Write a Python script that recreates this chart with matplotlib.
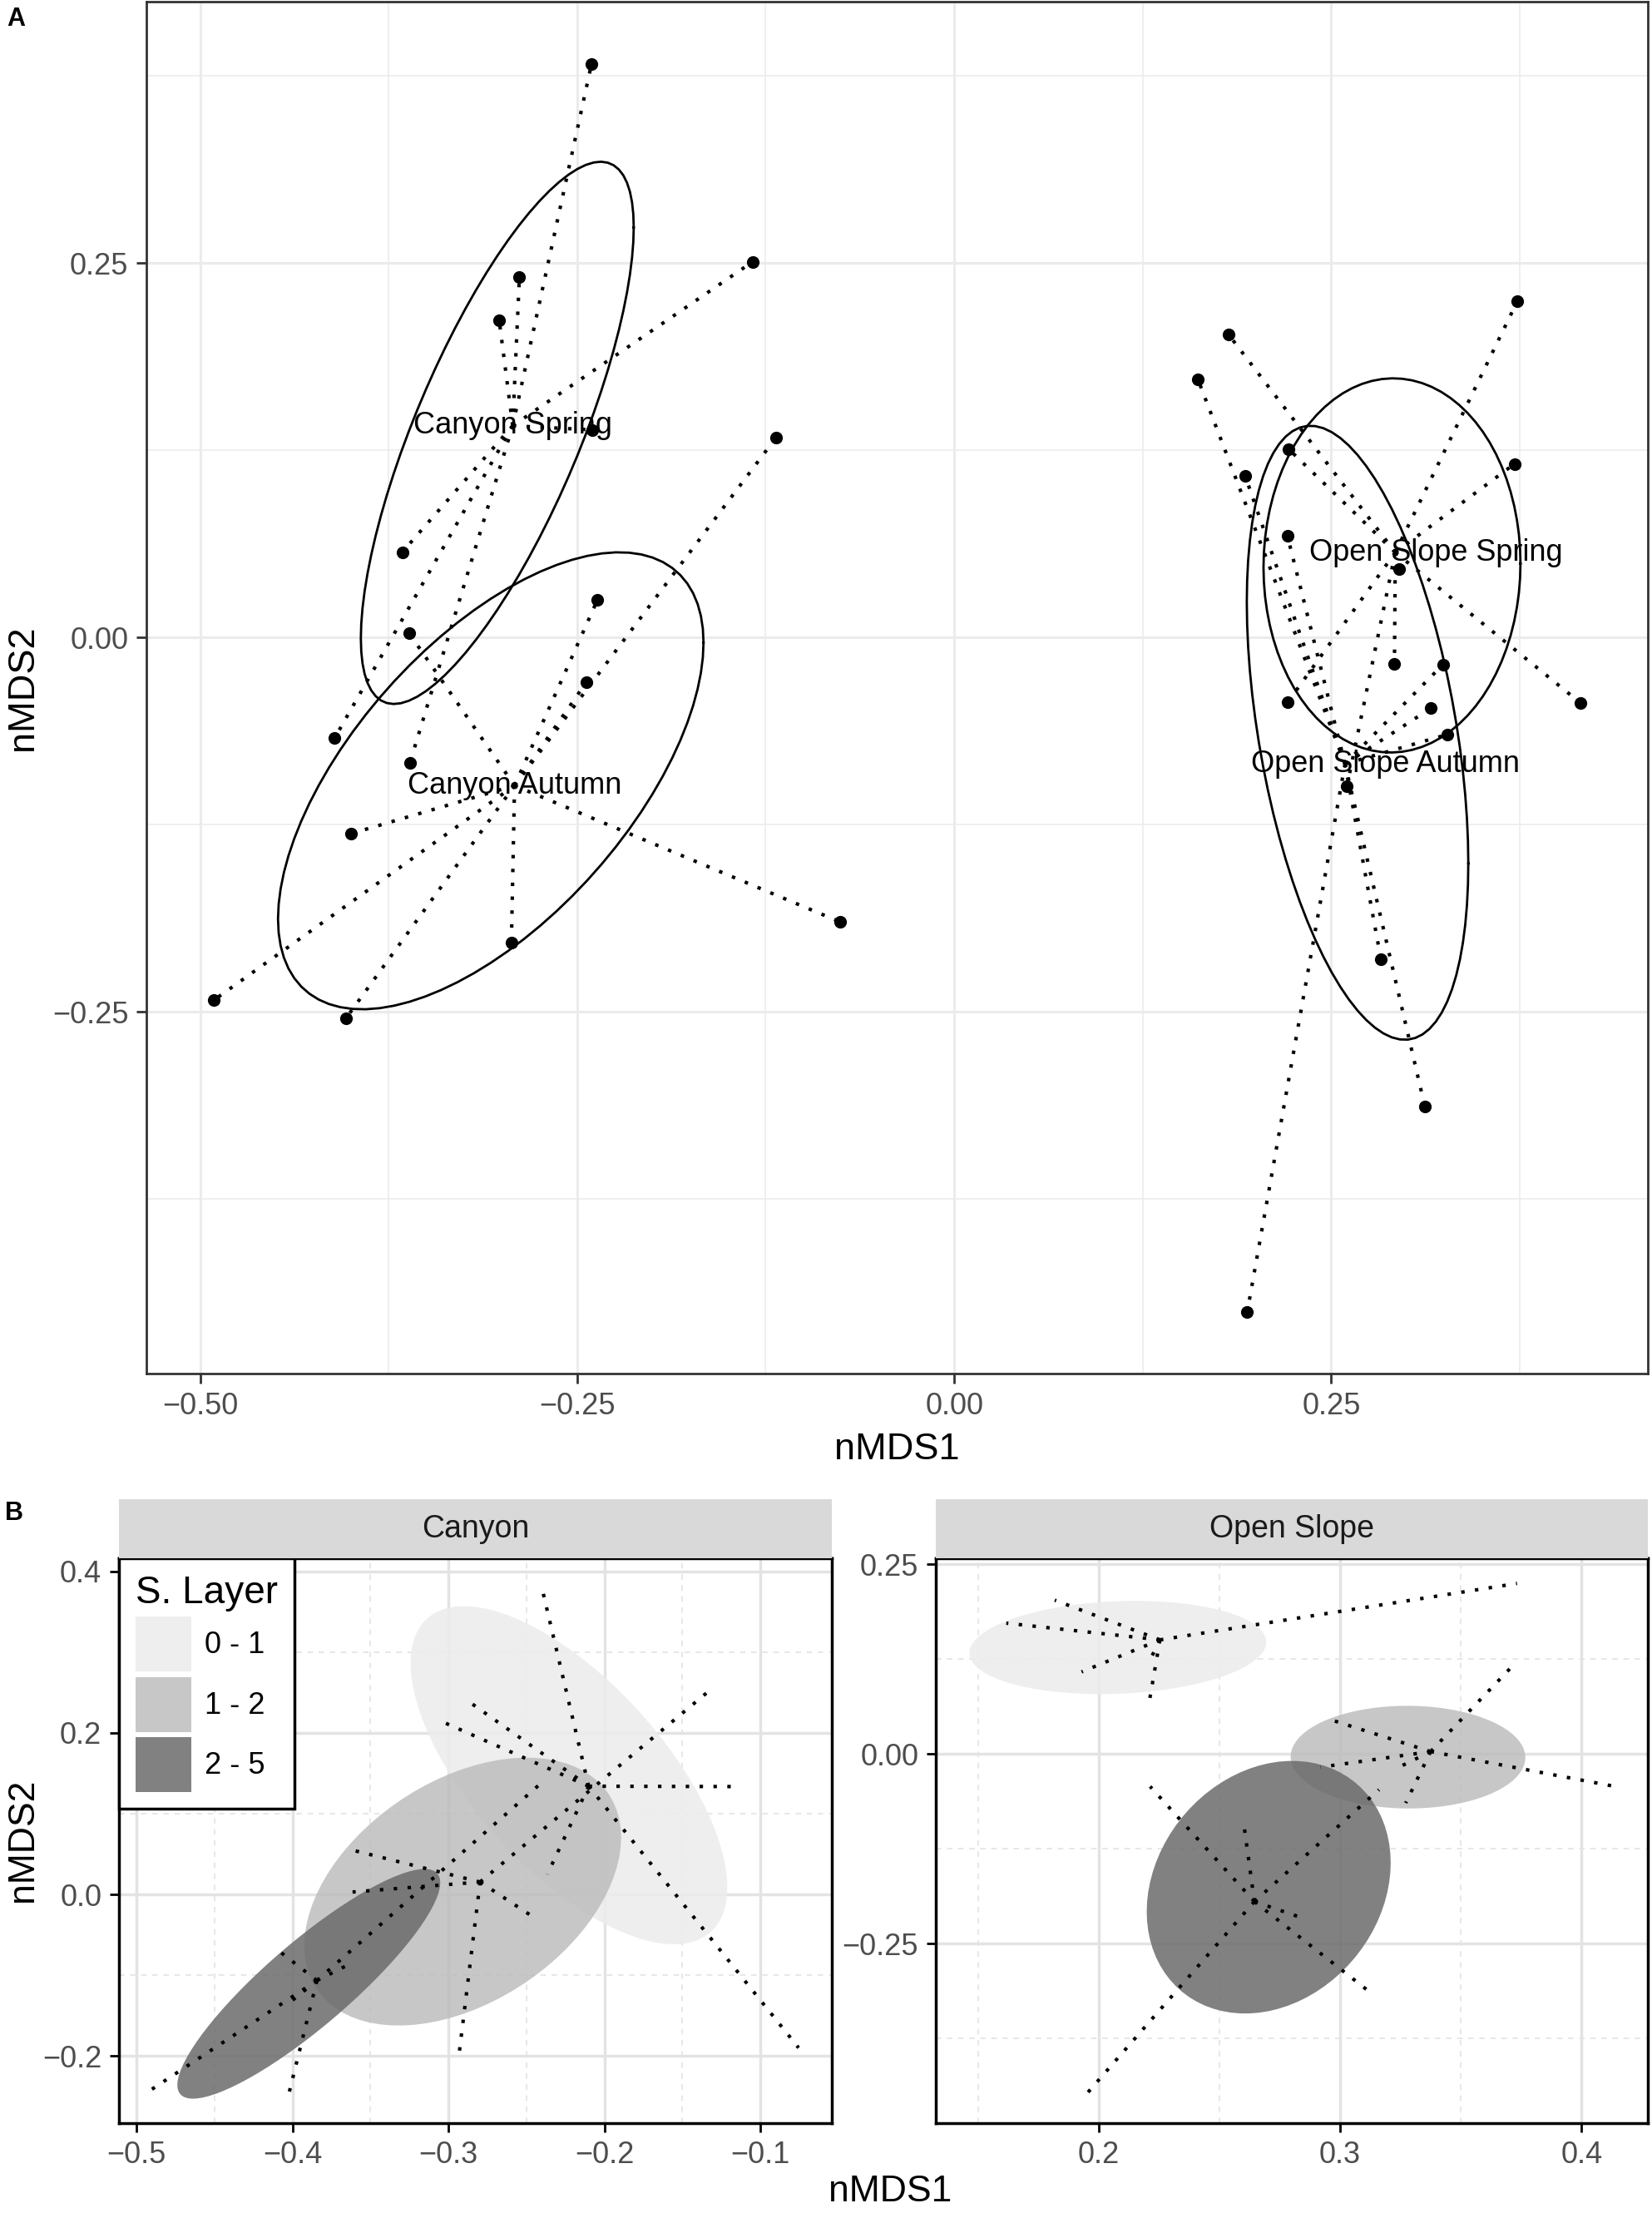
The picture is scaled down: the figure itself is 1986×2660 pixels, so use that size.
import numpy as np
import matplotlib
matplotlib.use("Agg")
import matplotlib.pyplot as plt
from matplotlib.patches import Polygon, Patch
from matplotlib.ticker import FuncFormatter

plt.rcParams['font.family'] = ['Liberation Sans', 'DejaVu Sans']

# nMDS site scores
canyon_x = [-0.2405, -0.1336, -0.2883, -0.3017, -0.2401, -0.366, -0.4107, -0.361,
            -0.0755, -0.400, -0.2936, -0.4909, -0.4033, -0.244, -0.2366, -0.1181, -0.3615]
canyon_y = [0.383, 0.251, 0.2407, 0.212, 0.1387, 0.057, -0.067, -0.084,
            -0.19, -0.131, -0.204, -0.2422, -0.2543, -0.030, 0.025, 0.1336, 0.003]
canyon_season = ["Spring"] * 8 + ["Autumn"] * 9
canyon_layer = ["0 - 1", "1 - 2", "0 - 1", "0 - 1", "2 - 5", "1 - 2", "2 - 5", "2 - 5",
                "0 - 1", "2 - 5", "1 - 2", "2 - 5", "2 - 5", "1 - 2", "0 - 1", "0 - 1", "1 - 2"]

slope_x = [0.3733, 0.1818, 0.1617, 0.2216, 0.1929, 0.3715, 0.2209, 0.2951, 0.2919,
           0.3241, 0.2213, 0.3161, 0.4152, 0.3272, 0.2604, 0.2829, 0.312, 0.1943]
slope_y = [0.2245, 0.2025, 0.1722, 0.126, 0.108, 0.116, 0.068, 0.046, -0.0175,
           -0.018, -0.043, -0.0472, -0.0437, -0.0647, -0.0992, -0.2146, -0.313, -0.4504]
slope_season = ["Spring", "Spring", "Autumn", "Spring", "Autumn", "Spring", "Autumn", "Spring", "Spring",
                "Autumn", "Spring", "Autumn", "Spring", "Autumn", "Spring", "Autumn", "Autumn", "Autumn"]
slope_layer = ["0 - 1", "0 - 1", "0 - 1", "0 - 1", "0 - 1", "1 - 2", "0 - 1", "1 - 2", "1 - 2",
               "1 - 2", "2 - 5", "2 - 5", "1 - 2", "1 - 2", "2 - 5", "2 - 5", "2 - 5", "2 - 5"]

seasons = ["Spring", "Autumn"]
layers = ["0 - 1", "1 - 2", "2 - 5"]
layer_fill = {"0 - 1": "#ececec", "1 - 2": "#bdbdbd", "2 - 5": "#6b6b6b"}
fill_alpha = 0.85

W, H = 1986, 2660
fig = plt.figure(figsize=(W / 100, H / 100), dpi=100)


def cov_trob(xy, nu=5, maxit=25, tol=0.01):
    # multivariate t fit, same steps as MASS::cov.trob
    n, p = xy.shape
    loc = xy.mean(0)
    w = np.ones(n)
    for _ in range(maxit):
        w0 = w
        X = xy - loc
        sw = np.sqrt(w / w.sum())
        _, d, vt = np.linalg.svd(sw[:, None] * X, full_matrices=False)
        wX = X @ vt.T @ np.diag(1 / d)
        Q = (wX ** 2).sum(1)
        w = (nu + p) / (nu + Q)
        loc = (w[:, None] * xy).sum(0) / w.sum()
        if np.all(np.abs(w - w0) < tol):
            break
    cov = (np.sqrt(w)[:, None] * X).T @ (np.sqrt(w)[:, None] * X) / n
    return loc, cov


def t_ellipse(x, y, level=0.5, segments=80):
    xy = np.column_stack([x, y])
    dfd = len(xy) - 1
    center, shape = cov_trob(xy)
    chol = np.linalg.cholesky(shape).T
    qf = dfd / 2 * ((1 - level) ** (-2 / dfd) - 1)
    radius = np.sqrt(2 * qf)
    ang = np.linspace(0, 2 * np.pi, segments + 1)
    circ = np.column_stack([np.cos(ang), np.sin(ang)])
    return center + radius * circ @ chol


def ax_box(left, top, right, bottom):
    return fig.add_axes([left / W, 1 - bottom / H, (right - left) / W, (bottom - top) / H])


def fmt(dec):
    return FuncFormatter(lambda v, p: f"{v:.{dec}f}".replace("-", "\u2212"))


def spider(ax, xs, ys, lw=3):
    cx, cy = np.mean(xs), np.mean(ys)
    for px, py in zip(xs, ys):
        ax.plot([cx, px], [cy, py], color="black", lw=lw, ls=(0, (1, 3)), zorder=3)
    return cx, cy


# ---------------- panel A ----------------
axA = ax_box(176, 2, 1981, 1651)
axA.set_xlim(-0.5356, 0.4599)
axA.set_ylim(-0.4916, 0.4247)
axA.set_xticks([-0.5, -0.25, 0, 0.25])
axA.set_yticks([-0.25, 0, 0.25])
axA.set_xticks([-0.375, -0.125, 0.125, 0.375], minor=True)
axA.set_yticks([-0.375, -0.125, 0.125, 0.375], minor=True)
axA.xaxis.set_major_formatter(fmt(2))
axA.yaxis.set_major_formatter(fmt(2))
axA.grid(which="major", color="#ebebeb", lw=2.2)
axA.grid(which="minor", color="#ebebeb", lw=1.1)
axA.set_axisbelow(True)
axA.tick_params(which="major", length=8.5, width=2, color="#333333", labelsize=26,
                labelcolor="#4d4d4d", pad=7)
axA.tick_params(which="minor", length=0)
for s in axA.spines.values():
    s.set_color("#333333")
    s.set_linewidth(2)

label_shift = {"Canyon Spring": (0, 0), "Canyon Autumn": (0, 0),
               "Open Slope Spring": (0.027, 0), "Open Slope Autumn": (0.027, 0)}

for site, xs, ys, grp in [("Canyon", canyon_x, canyon_y, canyon_season),
                          ("Open Slope", slope_x, slope_y, slope_season)]:
    xs, ys, grp = np.array(xs), np.array(ys), np.array(grp)
    for season in seasons:
        m = grp == season
        cx, cy = spider(axA, xs[m], ys[m])
        e = t_ellipse(xs[m], ys[m])
        axA.plot(e[:, 0], e[:, 1], color="black", lw=2, zorder=3)
        name = f"{site} {season}"
        dx, dy = label_shift[name]
        axA.text(cx + dx, cy + dy, name, ha="center", va="center", fontsize=26, zorder=6)
    axA.scatter(xs, ys, s=120, color="black", zorder=5, linewidths=0)

fig.text(8 / W, 1 - 8 / H, "A", fontsize=22, fontweight="bold", ha="left", va="top")
fig.text(27 / W, 1 - 827 / H, "nMDS2", rotation=90, fontsize=32.5, ha="center", va="center")
fig.text(1078 / W, 1 - 1743 / H, "nMDS1", fontsize=32.5, ha="center", va="center")

# ---------------- panel B ----------------
panels = [
    ("Canyon", canyon_x, canyon_y, canyon_layer, (143, 1000),
     (-0.5113, -0.0542), (-0.2833, 0.4164),
     [-0.5, -0.4, -0.3, -0.2, -0.1], [-0.45, -0.35, -0.25, -0.15],
     [-0.2, 0.0, 0.2, 0.4], [-0.1, 0.1, 0.3], 1, 1),
    ("Open Slope", slope_x, slope_y, slope_layer, (1125, 1981),
     (0.1325, 0.4275), (-0.4865, 0.2577),
     [0.2, 0.3, 0.4], [0.15, 0.25, 0.35],
     [-0.25, 0.0, 0.25], [-0.375, -0.125, 0.125], 1, 2),
]

for (name, xs, ys, grp, (l, r), xlim, ylim, xt, xtm, yt, ytm, xd, yd) in panels:
    ax = ax_box(l, 1873, r, 2552)
    ax.set_xlim(*xlim)
    ax.set_ylim(*ylim)
    ax.set_xticks(xt)
    ax.set_xticks(xtm, minor=True)
    ax.set_yticks(yt)
    ax.set_yticks(ytm, minor=True)
    ax.xaxis.set_major_formatter(fmt(xd))
    ax.yaxis.set_major_formatter(fmt(yd))
    ax.grid(which="major", color="#e3e3e3", lw=2.5)
    ax.grid(which="minor", color="#e3e3e3", lw=1.2, ls=(0, (4, 4)))
    ax.set_axisbelow(True)
    ax.tick_params(which="major", length=8, width=2, color="black", labelsize=26,
                   labelcolor="#4d4d4d", pad=7)
    ax.tick_params(which="minor", length=0)
    for s in ax.spines.values():
        s.set_color("black")
        s.set_linewidth(2.5)

    xs, ys, grp = np.array(xs), np.array(ys), np.array(grp)
    for layer in layers:
        m = grp == layer
        e = t_ellipse(xs[m], ys[m])
        ax.add_patch(Polygon(e, closed=True, facecolor=layer_fill[layer], alpha=fill_alpha,
                             edgecolor="none", zorder=2))
    for layer in layers:
        m = grp == layer
        spider(ax, xs[m], ys[m])

    strip = ax_box(l, 1802, r, 1873)
    strip.set_facecolor("#d9d9d9")
    strip.set_xticks([])
    strip.set_yticks([])
    for s in strip.spines.values():
        s.set_visible(False)
    strip.text(0.5, 0.5, name, ha="center", va="center", fontsize=27, color="#1a1a1a",
               transform=strip.transAxes)

    if name == "Canyon":
        handles = [Patch(facecolor=layer_fill[k], alpha=fill_alpha, edgecolor="none") for k in layers]
        leg = ax.legend(handles, layers, title="S. Layer", loc="upper left", bbox_to_anchor=(0, 1),
                        borderaxespad=0, frameon=True, fancybox=False, edgecolor="black",
                        framealpha=1, fontsize=26, title_fontsize=33, handlelength=1.85,
                        handleheight=2.43, labelspacing=0.18, handletextpad=0.45,
                        borderpad=0.55, alignment="left")
        leg.get_frame().set_linewidth(2.5)
        leg.set_zorder(10)

fig.text(6 / W, 1 - 1804 / H, "B", fontsize=22, fontweight="bold", ha="left", va="top")
fig.text(28 / W, 1 - 2212 / H, "nMDS2", rotation=90, fontsize=32, ha="center", va="center")
fig.text(1070 / W, 1 - 2635 / H, "nMDS1", fontsize=32, ha="center", va="center")

fig.savefig("out.png", dpi=100)
